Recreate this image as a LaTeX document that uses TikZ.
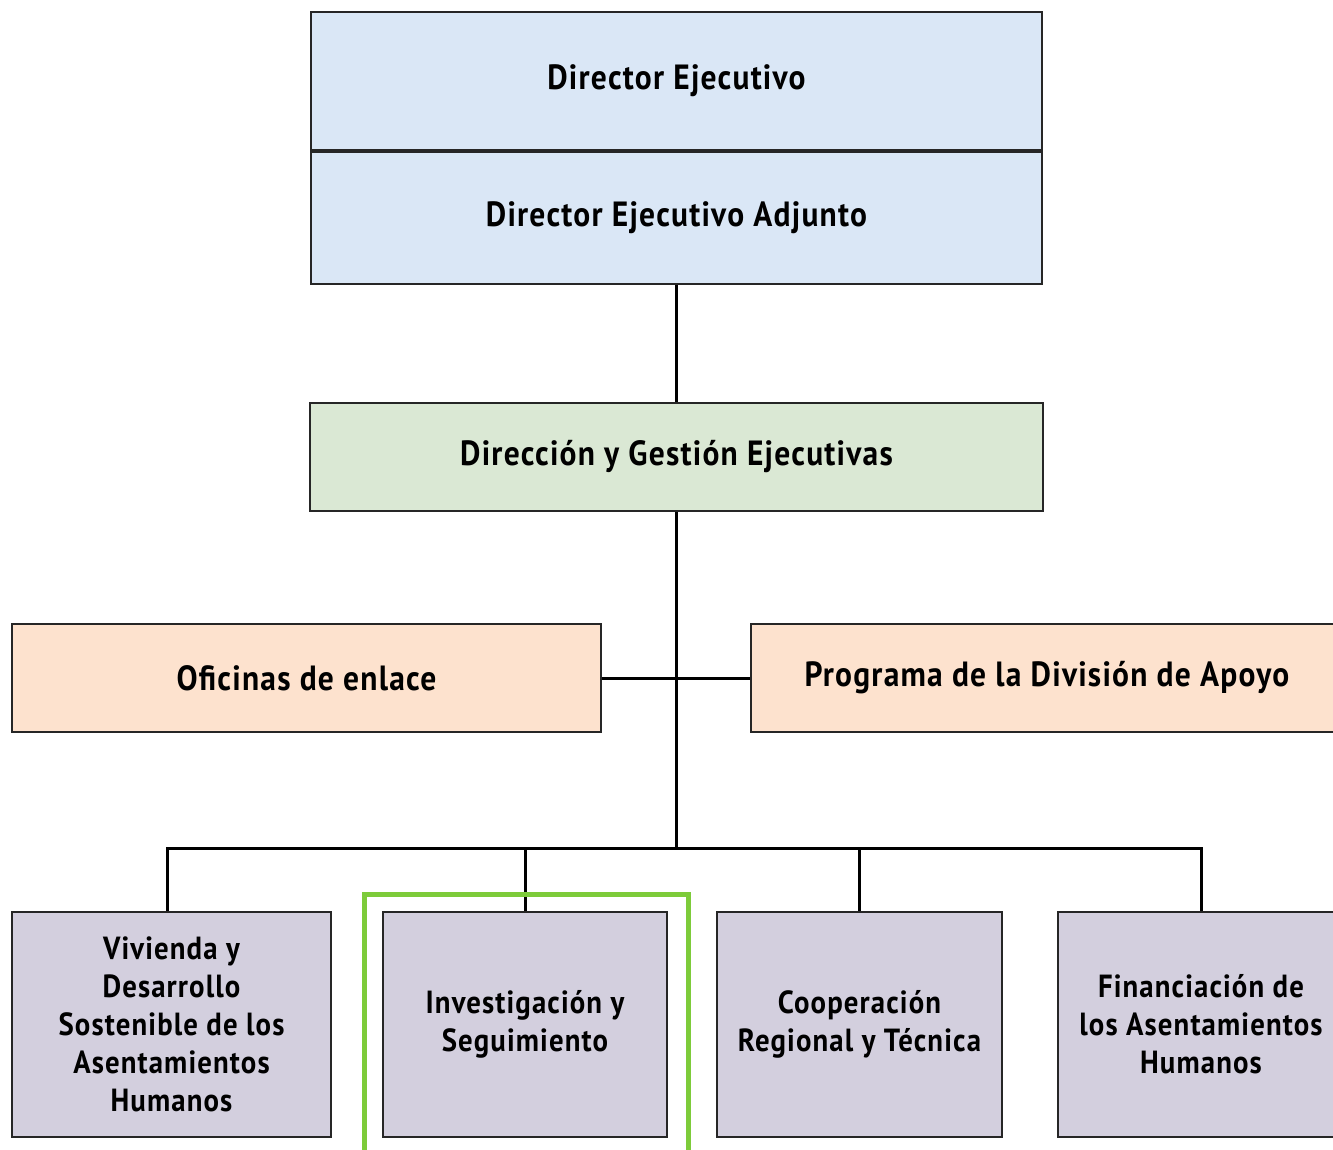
\documentclass[tikz,border=0pt]{standalone}
\usepackage{fontspec}
\setmainfont{PT Sans}[FakeStretch=0.9,LetterSpace=3.5]
\usetikzlibrary{positioning}

\definecolor{dirblue}{HTML}{DAE7F6}
\definecolor{dgegreen}{HTML}{DAE8D4}
\definecolor{linkpeach}{HTML}{FDE2CE}
\definecolor{sublilac}{HTML}{D3CFDE}
\definecolor{hlgreen}{HTML}{7DCB3A}

\begin{document}
\begin{tikzpicture}[x=1pt,y=-1pt,line width=2pt,
font=\fontsize{32}{38}\selectfont\bfseries,
box/.style={rectangle,draw=black!85,inner sep=0pt,align=center},
big text/.style={font=\fontsize{35}{40}\selectfont\bfseries},
head box/.style={box,big text,fill=dirblue,minimum width=731pt},
dge box/.style={box,big text,fill=dgegreen,minimum width=733pt,minimum height=108pt},
link box/.style={box,big text,fill=linkpeach,minimum height=108pt},
sub box/.style={box,fill=sublilac,minimum height=225pt},
conn/.style={line width=3pt,black},
hl/.style={line width=5pt,hlgreen}]
\useasboundingbox (0,0) rectangle (1333,1150);

\node[head box,minimum height=138pt] (dir) at (676.5,81) {Director Ejecutivo};
\node[head box,minimum height=132pt] (adj) [below=0pt of dir] {Director Ejecutivo Adjunto};

\node[dge box] (dge) at (676.5,457) {Dirección y Gestión Ejecutivas};

\node[link box,minimum width=589pt] (ofi) at (306.5,678) {Oficinas de enlace};
\node[link box,minimum width=592pt] (prog) at (1047,678) {Programa de la División de Apoyo};

\coordinate (bus) at (676.5,848);

\node[sub box,minimum width=319pt] (viv) at (171.5,1024.5) {Vivienda y\\Desarrollo\\Sostenible de los\\Asentamientos\\Humanos};
\node[sub box,minimum width=284pt] (inv) at (525,1024.5) {Investigación y\\Seguimiento};
\node[sub box,minimum width=285pt] (coop) at (859.5,1024.5) {Cooperación\\Regional y Técnica};
\node[sub box,minimum width=286pt] (fin) at (1201,1024.5) {Financiación de\\los Asentamientos\\Humanos};

% connectors
\draw[conn] (adj) -- (dge);
\draw[conn] (dge) -- (bus);
\draw[conn] (ofi) -- (prog);
\draw[conn] (bus) -| ([xshift=-4pt]viv.north);
\draw[conn] (bus) -| (inv.north);
\draw[conn] (bus) -| (coop.north);
\draw[conn] (bus) -| (fin.north);

% highlight
\draw[hl] ([shift={(-18,20)}]inv.south west) |- ([shift={(20,-17)}]inv.north east) -- ([shift={(20,20)}]inv.south east);
\end{tikzpicture}
\end{document}
